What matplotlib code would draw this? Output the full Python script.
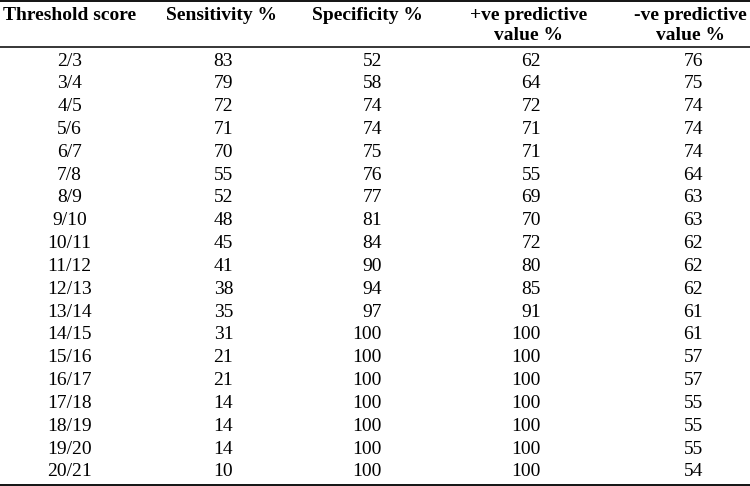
import matplotlib.pyplot as plt

thresholds = ['2/3', '3/4', '4/5', '5/6', '6/7', '7/8', '8/9', '9/10', '10/11', '11/12',
              '12/13', '13/14', '14/15', '15/16', '16/17', '17/18', '18/19', '19/20', '20/21']
sensitivity = [83, 79, 72, 71, 70, 55, 52, 48, 45, 41, 38, 35, 31, 21, 21, 14, 14, 14, 10]
specificity = [52, 58, 74, 74, 75, 76, 77, 81, 84, 90, 94, 97, 100, 100, 100, 100, 100, 100, 100]
ppv = [62, 64, 72, 71, 71, 55, 69, 70, 72, 80, 85, 91, 100, 100, 100, 100, 100, 100, 100]
npv = [76, 75, 74, 74, 74, 64, 63, 63, 62, 62, 62, 61, 61, 57, 57, 55, 55, 55, 54]
headers = ['Threshold score', 'Sensitivity %', 'Specificity %',
           '+ve predictive\nvalue %', '-ve predictive\nvalue %']

plt.rcParams['font.family'] = ['Liberation Serif', 'DejaVu Serif']

fig = plt.figure(figsize=(7.5, 4.86), dpi=100)
ax = fig.add_axes([0, 0, 1, 1])
ax.set_xlim(0, 750)
ax.set_ylim(486, 0)
ax.axis('off')

fs = 14
# column anchors (x, alignment)
cols = [(69.5, 'center'), (223.5, 'center'), (382, 'right'), (541, 'right'), (703, 'right')]
head_x = [70, 222, 367, 529, 690]

for hx, h in zip(head_x, headers):
    ax.text(hx, 7, h, ha='center', va='top', fontsize=fs, fontweight='bold',
            linespacing=1.25)

row0, step = 61, 22.83
columns = [thresholds, sensitivity, specificity, ppv, npv]
for i in range(len(thresholds)):
    y = row0 + i * step
    for (cx, al), vals in zip(cols, columns):
        ax.text(cx, y, str(vals[i]), ha=al, va='center', fontsize=fs)

ax.axhline(1.2, color='black', lw=1.3)
ax.axhline(47, color='black', lw=1.1)
ax.axhline(485, color='black', lw=1.3)

fig.savefig('out.png', dpi=100)
